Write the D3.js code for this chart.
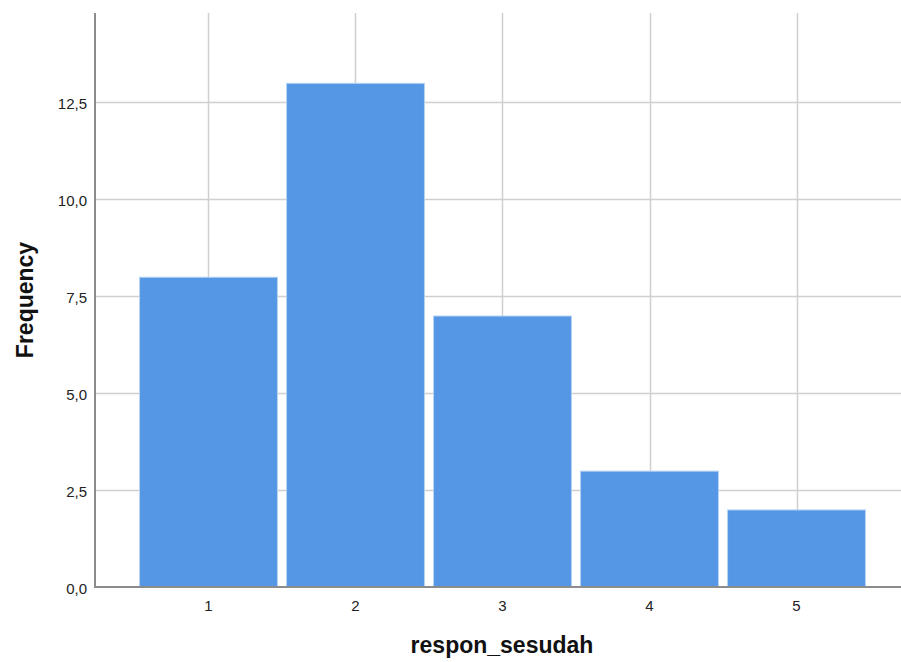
<!DOCTYPE html>
<html>
<head>
<meta charset="utf-8">
<script src="https://cdn.jsdelivr.net/npm/d3@7"></script>
<style>
  body { margin: 0; background: #fff; }
  text { font-family: "Liberation Sans", Arial, sans-serif; }
</style>
</head>
<body>
<svg id="chart" width="901" height="662"></svg>
<script>
// data
var categories = ["1", "2", "3", "4", "5"];
var frequencies = [8, 13, 7, 3, 2];
var yTicks = [0, 2.5, 5, 7.5, 10, 12.5];

var X_TITLE = "respon_sesudah";
var Y_TITLE = "Frequency";

var PLOT_LEFT = 95;
var PLOT_RIGHT = 901;
var PLOT_TOP = 13;
var PLOT_BOTTOM = 587;

var BAR_FILL = "#5596e5";
var BAR_EDGE = "#b6d2f3";
var GRID = "#cfcfcf";
var AXIS = "#8c8c8c";

var svg = d3.select("#chart");

var locale = d3.formatLocale({ decimal: ",", thousands: ".", grouping: [3], currency: ["", ""] });
var fmt = locale.format(".1f");

var x = d3.scaleBand()
	.domain(categories)
	.range([135, 870])
	.paddingInner(0.055)
	.paddingOuter(0.0275);

var y = d3.scaleLinear()
	.domain([0, 14.8])
	.range([PLOT_BOTTOM, PLOT_TOP]);

// grid
svg.append("g").selectAll("line.hgrid")
	.data(yTicks.filter(function(d) { return d > 0; }))
	.enter().append("line")
	.attr("class", "hgrid")
	.attr("x1", PLOT_LEFT).attr("x2", PLOT_RIGHT)
	.attr("y1", function(d) { return Math.round(y(d)) + 0.5; })
	.attr("y2", function(d) { return Math.round(y(d)) + 0.5; })
	.style("stroke", GRID).style("stroke-width", 1.5);

svg.append("g").selectAll("line.vgrid")
	.data(categories)
	.enter().append("line")
	.attr("class", "vgrid")
	.attr("x1", function(d) { return Math.round(x(d) + x.bandwidth() / 2) + 0.5; })
	.attr("x2", function(d) { return Math.round(x(d) + x.bandwidth() / 2) + 0.5; })
	.attr("y1", PLOT_TOP).attr("y2", PLOT_BOTTOM)
	.style("stroke", GRID).style("stroke-width", 1.5);

// bars
svg.append("g").selectAll("rect.bar")
	.data(frequencies)
	.enter().append("rect")
	.attr("class", "bar")
	.attr("x", function(d, i) { return x(categories[i]) + 0.5; })
	.attr("y", function(d) { return y(d) + 0.5; })
	.attr("width", x.bandwidth() - 1)
	.attr("height", function(d) { return PLOT_BOTTOM - y(d) - 0.5; })
	.style("fill", BAR_FILL)
	.style("stroke", BAR_EDGE)
	.style("stroke-width", 1);

// axes
var yAxis = d3.axisLeft(y).tickValues(yTicks).tickFormat(fmt).tickSize(0).tickPadding(8);
var gy = svg.append("g").attr("transform", "translate(" + PLOT_LEFT + ",0)").call(yAxis);
gy.select(".domain").remove();
gy.selectAll("text")
	.attr("dy", "0.42em")
	.style("font-size", "15px")
	.style("fill", "#222");

var xAxis = d3.axisBottom(x).tickSize(0).tickPadding(13);
var gx = svg.append("g").attr("transform", "translate(0," + PLOT_BOTTOM + ")").call(xAxis);
gx.select(".domain").remove();
gx.selectAll("text")
	.style("font-size", "15px")
	.style("fill", "#222");

svg.append("line")
	.attr("x1", PLOT_LEFT).attr("x2", PLOT_LEFT)
	.attr("y1", PLOT_TOP).attr("y2", PLOT_BOTTOM + 1)
	.style("stroke", AXIS).style("stroke-width", 2);

svg.append("line")
	.attr("x1", PLOT_LEFT - 1).attr("x2", PLOT_RIGHT)
	.attr("y1", PLOT_BOTTOM).attr("y2", PLOT_BOTTOM)
	.style("stroke", AXIS).style("stroke-width", 2);

// titles
svg.append("text")
	.attr("x", 502).attr("y", 653)
	.attr("text-anchor", "middle")
	.style("font-size", "23px")
	.style("font-weight", "bold")
	.style("fill", "#111")
	.text(X_TITLE);

svg.append("text")
	.attr("transform", "translate(33,300) rotate(-90)")
	.attr("text-anchor", "middle")
	.style("font-size", "23px")
	.style("font-weight", "bold")
	.style("fill", "#111")
	.text(Y_TITLE);
</script>
</body>
</html>
